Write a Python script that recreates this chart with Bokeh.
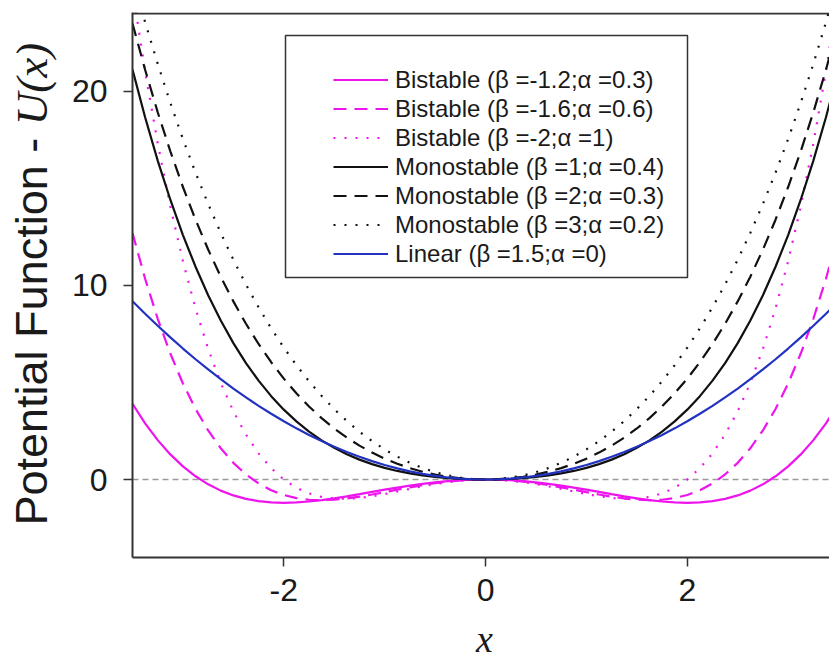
import math
from bokeh.plotting import figure
from bokeh.layouts import row, column
from bokeh.models import Legend, LegendItem, Span, BoxAnnotation, Label, FixedTicker, Range1d
from bokeh.embed import file_html
from bokeh.resources import INLINE

# ---- data ----
x_vals = [-3.5, -3.375, -3.25, -3.125, -3.0, -2.875, -2.75, -2.625, -2.5, -2.375,
          -2.25, -2.125, -2.0, -1.875, -1.75, -1.625, -1.5, -1.375, -1.25, -1.125,
          -1.0, -0.875, -0.75, -0.625, -0.5, -0.375, -0.25, -0.125, 0.0, 0.125,
          0.25, 0.375, 0.5, 0.625, 0.75, 0.875, 1.0, 1.125, 1.25, 1.375,
          1.5, 1.625, 1.75, 1.875, 2.0, 2.125, 2.25, 2.375, 2.5, 2.625,
          2.75, 2.875, 3.0, 3.125, 3.25, 3.375, 3.5]

bistable_a = [3.905, 2.897, 2.030, 1.293, 0.675, 0.165, -0.248, -0.573, -0.820, -0.998,
              -1.115, -1.180, -1.200, -1.182, -1.134, -1.061, -0.970, -0.866, -0.754, -0.639,
              -0.525, -0.415, -0.314, -0.223, -0.145, -0.083, -0.037, -0.009, 0.0, -0.009,
              -0.037, -0.083, -0.145, -0.223, -0.314, -0.415, -0.525, -0.639, -0.754, -0.866,
              -0.970, -1.061, -1.134, -1.182, -1.200, -1.180, -1.115, -0.998, -0.820, -0.573,
              -0.248, 0.165, 0.675, 1.293, 2.030, 2.897, 3.905]

bistable_b = [12.709, 10.349, 8.285, 6.493, 4.950, 3.636, 2.529, 1.610, 0.859, 0.260,
              -0.206, -0.554, -0.800, -0.959, -1.043, -1.067, -1.041, -0.976, -0.884, -0.772,
              -0.650, -0.525, -0.403, -0.290, -0.191, -0.110, -0.049, -0.012, 0.0, -0.012,
              -0.049, -0.110, -0.191, -0.290, -0.403, -0.525, -0.650, -0.772, -0.884, -0.976,
              -1.041, -1.067, -1.043, -0.959, -0.800, -0.554, -0.206, 0.260, 0.859, 1.610,
              2.529, 3.636, 4.950, 6.493, 8.285, 10.349, 12.709]

bistable_c = [25.266, 21.046, 17.329, 14.076, 11.250, 8.815, 6.735, 4.980, 3.516, 2.314,
              1.345, 0.582, 0.0, -0.426, -0.718, -0.897, -0.984, -0.997, -0.952, -0.865,
              -0.750, -0.619, -0.483, -0.352, -0.234, -0.136, -0.062, -0.016, 0.0, -0.016,
              -0.062, -0.136, -0.234, -0.352, -0.483, -0.619, -0.750, -0.865, -0.952, -0.997,
              -0.984, -0.897, -0.718, -0.426, 0.0, 0.582, 1.345, 2.314, 3.516, 4.980,
              6.735, 8.815, 11.250, 14.076, 17.329, 21.046, 25.266]

mono_a = [21.131, 18.670, 16.438, 14.420, 12.600, 10.965, 9.500, 8.193, 7.031, 6.002,
          5.094, 4.297, 3.600, 2.994, 2.469, 2.018, 1.631, 1.303, 1.025, 0.793,
          0.600, 0.441, 0.313, 0.211, 0.131, 0.072, 0.032, 0.008, 0.0, 0.008,
          0.032, 0.072, 0.131, 0.211, 0.313, 0.441, 0.600, 0.793, 1.025, 1.303,
          1.631, 2.018, 2.469, 2.994, 3.600, 4.297, 5.094, 6.002, 7.031, 8.193,
          9.500, 10.965, 12.600, 14.420, 16.438, 18.670, 21.131]

mono_b = [23.505, 21.122, 18.930, 16.918, 15.075, 13.390, 11.852, 10.452, 9.180, 8.027,
          6.985, 6.045, 5.200, 4.443, 3.766, 3.164, 2.630, 2.159, 1.746, 1.386,
          1.075, 0.810, 0.586, 0.402, 0.255, 0.142, 0.063, 0.016, 0.0, 0.016,
          0.063, 0.142, 0.255, 0.402, 0.586, 0.810, 1.075, 1.386, 1.746, 2.159,
          2.630, 3.164, 3.766, 4.443, 5.200, 6.045, 6.985, 8.027, 9.180, 10.452,
          11.852, 13.390, 15.075, 16.918, 18.930, 21.122, 23.505]

mono_c = [25.878, 23.573, 21.422, 19.417, 17.550, 15.814, 14.203, 12.710, 11.328, 10.052,
          8.875, 7.793, 6.800, 5.891, 5.063, 4.310, 3.628, 3.015, 2.466, 1.979,
          1.550, 1.178, 0.860, 0.594, 0.378, 0.212, 0.094, 0.023, 0.0, 0.023,
          0.094, 0.212, 0.378, 0.594, 0.860, 1.178, 1.550, 1.979, 2.466, 3.015,
          3.628, 4.310, 5.063, 5.891, 6.800, 7.793, 8.875, 10.052, 11.328, 12.710,
          14.203, 15.814, 17.550, 19.417, 21.422, 23.573, 25.878]

linear = [9.188, 8.543, 7.922, 7.324, 6.750, 6.199, 5.672, 5.168, 4.688, 4.230,
          3.797, 3.387, 3.000, 2.637, 2.297, 1.980, 1.688, 1.418, 1.172, 0.949,
          0.750, 0.574, 0.422, 0.293, 0.188, 0.105, 0.047, 0.012, 0.0, 0.012,
          0.047, 0.105, 0.188, 0.293, 0.422, 0.574, 0.750, 0.949, 1.172, 1.418,
          1.688, 1.980, 2.297, 2.637, 3.000, 3.387, 3.797, 4.230, 4.688, 5.168,
          5.672, 6.199, 6.750, 7.324, 7.922, 8.543, 9.188]

series_labels = [
    "Bistable (β =-1.2;α =0.3)",
    "Bistable (β =-1.6;α =0.6)",
    "Bistable (β =-2;α =1)",
    "Monostable (β =1;α =0.4)",
    "Monostable (β =2;α =0.3)",
    "Monostable (β =3;α =0.2)",
    "Linear (β =1.5;α =0)",
]
x_ticks = [-2, 0, 2]
y_ticks = [0, 10, 20]
x_tick_labels = ["-2", "0", "2"]
y_tick_labels = ["0", "10", "20"]
y_title_main = "Potential Function -"
y_title_var = "U(x)"
x_title = "x"

# ---- styles / layout ----
PINK = "#EE14EE"
BLACK = "#111111"
BLUE = "#2232C0"
FRAME = "#333333"
TXT = "#1a1a1a"
series = [
    (bistable_a, PINK, "solid"),
    (bistable_b, PINK, "13 8"),
    (bistable_c, PINK, "2 9"),
    (mono_a, BLACK, "solid"),
    (mono_b, BLACK, "13 8"),
    (mono_c, BLACK, "2 9"),
    (linear, BLUE, "solid"),
]

W, H = 829, 659
LEFT_W = 66          # strip holding the y title
BOT_H = 43           # strip holding the x title
FL, FR, FT, FB = 132, 829, 12, 557  # frame edges in page pixels
X0, X1 = -3.5, 3.41
Y0, Y1 = -4.02, 24.07


def blank(width, height, xr, yr):
    f = figure(width=width, height=height, x_range=xr, y_range=yr,
               output_backend="svg", toolbar_location=None,
               x_axis_type=None, y_axis_type=None,
               min_border_left=0, min_border_right=0, min_border_top=0, min_border_bottom=0)
    f.outline_line_color = None
    f.grid.visible = False
    f.background_fill_color = "white"
    f.border_fill_color = "white"
    return f


# ---- main plot ----
p = figure(width=W - LEFT_W, height=H - BOT_H, x_range=(X0, X1), y_range=(Y0, Y1),
           output_backend="svg", toolbar_location=None,
           min_border_left=FL - LEFT_W, min_border_right=W - FR,
           min_border_top=FT, min_border_bottom=H - BOT_H - FB)
p.outline_line_color = None
p.grid.visible = False
p.background_fill_color = "white"
p.border_fill_color = "white"

zero = Span(location=0, dimension="width", line_color="#9a9a9a",
            line_dash="6 4", line_width=1.5, level="underlay")
p.add_layout(zero)

renderers = []
for ys, col, dash in series:
    r = p.line(x_vals, ys, line_color=col, line_width=2.2, line_dash=dash)
    renderers.append(r)

for ax in (p.xaxis[0], p.yaxis[0]):
    ax.axis_line_color = FRAME
    ax.axis_line_width = 2
    ax.major_tick_line_color = FRAME
    ax.major_tick_line_width = 1.5
    ax.major_tick_out = 9
    ax.major_tick_in = 0
    ax.minor_tick_line_color = None
    ax.major_label_text_font = "Liberation Sans"
    ax.major_label_text_font_size = "32px"
    ax.major_label_text_color = TXT
p.xaxis.ticker = FixedTicker(ticks=x_ticks)
p.yaxis.ticker = FixedTicker(ticks=y_ticks)
p.xaxis.major_label_overrides = dict(zip(x_ticks, x_tick_labels))
p.yaxis.major_label_overrides = dict(zip(y_ticks, y_tick_labels))
p.xaxis.major_label_standoff = 12
p.yaxis.major_label_standoff = 16

top_line = Span(location=Y1 - (Y1 - Y0) / (FB - FT), dimension="width",
                line_color=FRAME, line_width=2)
p.add_layout(top_line)

# legend frame
box = BoxAnnotation(left=285 - FL, right=687 - FL, bottom=FB - 277, top=FB - 35,
                    left_units="screen", right_units="screen",
                    bottom_units="screen", top_units="screen",
                    fill_color="white", fill_alpha=1.0,
                    line_color=FRAME, line_alpha=1.0, line_width=1.5)
p.add_layout(box)

items = [LegendItem(label=lab, renderers=[r]) for lab, r in zip(series_labels, renderers)]
legend = Legend(items=items, location=(333 - FL, FB - 268), padding=0, margin=0,
                spacing=0, glyph_width=55, glyph_height=29, label_height=29,
                label_standoff=7, label_text_font="Liberation Sans",
                label_text_font_size="24px", label_text_color=TXT,
                border_line_color=None, background_fill_alpha=0)
p.add_layout(legend)

# ---- y title strip (coordinates = page pixels) ----
left = blank(LEFT_W, H, Range1d(0, LEFT_W), Range1d(H, 0))
YT_SIZE = 45
y_base, y_start = 31, 525
ylab1 = Label(x=y_base, y=y_start, angle=math.pi / 2, text=y_title_main,
              text_font="Liberation Sans", text_font_size=f"{YT_SIZE}px",
              text_baseline="alphabetic", text_align="left", text_color=TXT)
ylab2 = Label(x=y_base, y=y_start - (8.615 + 0.278) * YT_SIZE, angle=math.pi / 2,
              text=y_title_var, text_font="Liberation Serif", text_font_style="italic",
              text_font_size=f"{YT_SIZE}px",
              text_baseline="alphabetic", text_align="left", text_color=TXT)
left.add_layout(ylab1)
left.add_layout(ylab2)

# ---- x title strip (its frame lines up with the main frame; coords = page pixels) ----
bottom = blank(W - LEFT_W, BOT_H, Range1d(FL, FR), Range1d(H, H - BOT_H))
xlab = Label(x=484, y=638, text=x_title,
             text_font="Liberation Serif", text_font_style="italic", text_font_size="38px",
             text_baseline="alphabetic", text_align="center", text_color=TXT)
bottom.add_layout(xlab)

layout = row(left, column(p, bottom, spacing=0), spacing=0)

open("out.html", "w").write(file_html(layout, INLINE))
